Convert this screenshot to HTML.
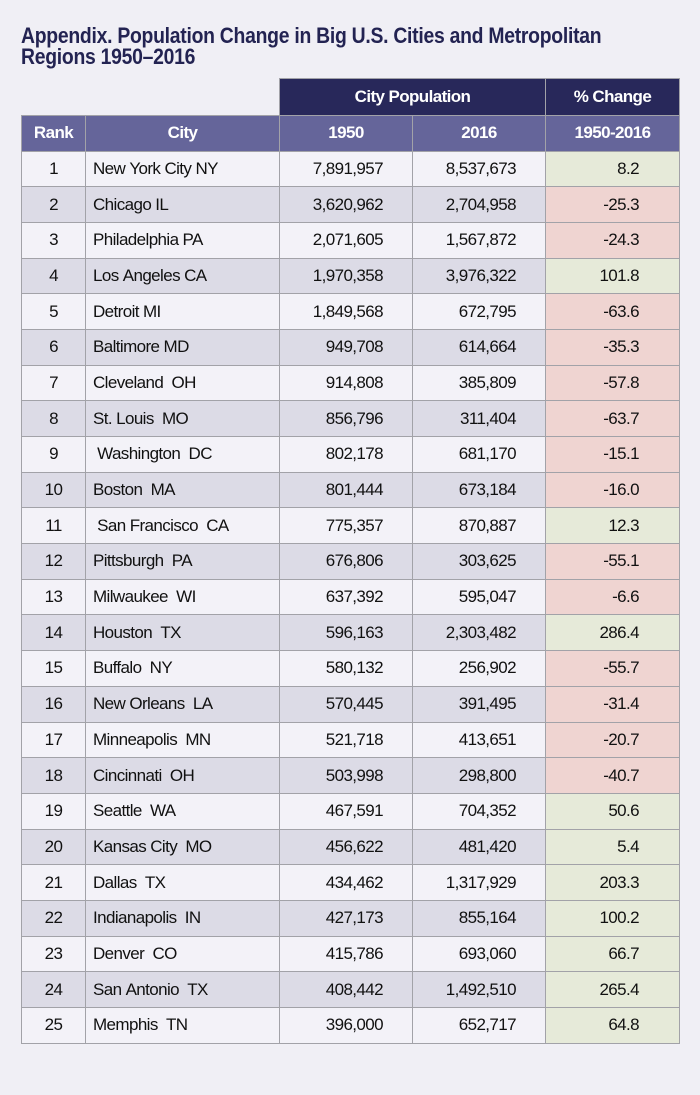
<!DOCTYPE html>
<html><head><meta charset="utf-8">
<style>
body{margin:0;background:#f0eff5;width:700px;height:1095px;overflow:hidden;font-family:"Liberation Sans",sans-serif;color:#111;}
h1{position:absolute;left:21px;top:25px;margin:0;font-size:22px;line-height:21px;color:#232352;font-weight:bold;letter-spacing:-0.3px;transform:scaleX(0.88);transform-origin:left top;white-space:nowrap;}
table{position:absolute;left:21px;top:78px;border-collapse:collapse;table-layout:fixed;}
td,th{border:1.5px solid #a2a2a8;padding:0;font-size:17px;letter-spacing:-0.6px;height:34.7px;}
th{color:#fff;font-weight:bold;text-align:center;}
.h1c{background:#28285a;height:35.5px;}
.h2c{background:#65659a;height:35px;}
.empty{border:none;background:transparent;}
td.r{text-align:center}
td.c{text-align:left;padding-left:7px}
td.n{text-align:right;padding-right:29px}
td.p{text-align:right;padding-right:40px}
tr.w td{background:#f3f2f8}
tr.g td{background:#dcdbe6}
td.pos{background:#e6ead9 !important}
td.neg{background:#efd4d1 !important}
</style></head><body>
<h1>Appendix. Population Change in Big U.S. Cities and Metropolitan<br>Regions 1950–2016</h1>
<table>
<colgroup><col style="width:64px"><col style="width:194px"><col style="width:133px"><col style="width:133px"><col style="width:134px"></colgroup>
<thead>
<tr><th class="empty" colspan="2"></th><th class="h1c" colspan="2">City Population</th><th class="h1c">% Change</th></tr>
<tr><th class="h2c">Rank</th><th class="h2c">City</th><th class="h2c">1950</th><th class="h2c">2016</th><th class="h2c">1950-2016</th></tr>
</thead>
<tbody id="tb"></tbody>
</table>
<script>
const cities=["New York City NY","Chicago IL","Philadelphia PA","Los Angeles CA","Detroit MI","Baltimore MD","Cleveland  OH","St. Louis  MO"," Washington  DC","Boston  MA"," San Francisco  CA","Pittsburgh  PA","Milwaukee  WI","Houston  TX","Buffalo  NY","New Orleans  LA","Minneapolis  MN","Cincinnati  OH","Seattle  WA","Kansas City  MO","Dallas  TX","Indianapolis  IN","Denver  CO","San Antonio  TX","Memphis  TN"];
const pop1950=["7,891,957","3,620,962","2,071,605","1,970,358","1,849,568","949,708","914,808","856,796","802,178","801,444","775,357","676,806","637,392","596,163","580,132","570,445","521,718","503,998","467,591","456,622","434,462","427,173","415,786","408,442","396,000"];
const pop2016=["8,537,673","2,704,958","1,567,872","3,976,322","672,795","614,664","385,809","311,404","681,170","673,184","870,887","303,625","595,047","2,303,482","256,902","391,495","413,651","298,800","704,352","481,420","1,317,929","855,164","693,060","1,492,510","652,717"];
const pctChange=["8.2","-25.3","-24.3","101.8","-63.6","-35.3","-57.8","-63.7","-15.1","-16.0","12.3","-55.1","-6.6","286.4","-55.7","-31.4","-20.7","-40.7","50.6","5.4","203.3","100.2","66.7","265.4","64.8"];
const tb=document.getElementById('tb');
cities.forEach((c,i)=>{
  const tr=document.createElement('tr');
  tr.className=i%2?'g':'w';
  
  
  const cells=[[String(i+1),'r','rank-cell'],[c.replace(/ /g,'\u00a0'),'c','city-cell'],[pop1950[i],'n','pop-1950-cell'],[pop2016[i],'n','pop-2016-cell'],[pctChange[i],'p '+(parseFloat(pctChange[i])<0?'neg':'pos'),'pct-change-cell']];
  cells.forEach(([t,cl,nm])=>{
    const td=document.createElement('td');
    td.className=cl;td.textContent=t;
    
    
    tr.appendChild(td);
  });
  tb.appendChild(tr);
});
</script>
</body></html>
